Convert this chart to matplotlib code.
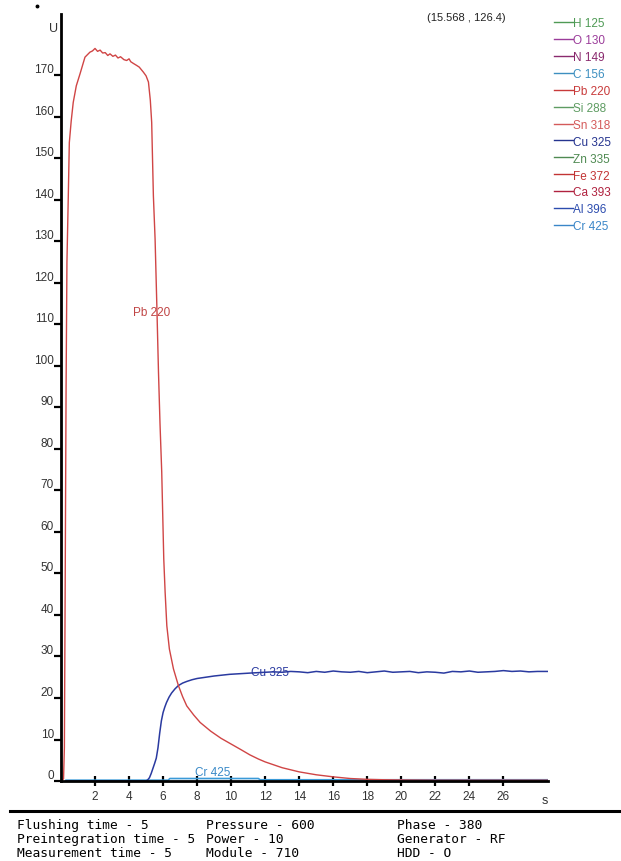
import matplotlib
matplotlib.use("Agg")
import matplotlib.pyplot as plt
from matplotlib.lines import Line2D
import numpy as np

# ---------------- data ----------------

pb_t = [0.0, 0.15, 0.2, 0.25, 0.3, 0.35, 0.43, 0.49, 0.6, 0.72, 0.9, 1.12, 1.41,
        1.7, 1.85, 2.0, 2.15, 2.3, 2.45, 2.6, 2.75, 2.88, 3.05, 3.2, 3.35, 3.5,
        3.7, 3.86, 4.0, 4.1, 4.25, 4.45, 4.6, 4.7, 4.84, 5.0, 5.14, 5.25, 5.33,
        5.43, 5.53, 5.63, 5.73, 5.82, 5.92, 6.04, 6.12, 6.22, 6.37, 6.61, 6.9,
        7.15, 7.39, 7.8, 8.18, 8.8, 9.4, 10, 10.6, 11.1, 11.6, 12, 13, 14, 15,
        16, 17, 18, 19, 20, 22, 24, 26, 28.6]
pb_u = [0.0, 0.5, 8, 50, 95, 125, 141, 153.8, 159, 163.5, 167.5, 170.4, 174.4,
        175.6, 175.9, 176.5, 175.8, 176.1, 175.4, 175.5, 174.8, 175.2, 174.6, 174.9,
        174.2, 174.5, 173.8, 173.6, 174.0, 173.3, 172.9, 172.4, 172.0, 171.5, 170.8,
        169.9, 168.4, 164, 158.7, 141, 130.6, 115, 98.5, 86, 74.5, 53.5, 45.5,
        37.4, 31.8, 27, 23, 20.3, 18.1, 15.9, 14.1, 12.0, 10.3, 8.9, 7.5, 6.3,
        5.3, 4.6, 3.2, 2.2, 1.5, 1.0, 0.6, 0.4, 0.3, 0.25, 0.2, 0.2, 0.2, 0.2]

cu_t = [0.3, 5.0, 5.1, 5.2, 5.3, 5.4, 5.5, 5.6, 5.7, 5.8, 5.9, 6.0, 6.1, 6.2,
        6.35, 6.5, 6.7, 6.9, 7.15, 7.4, 7.7, 8.0, 9.0, 9.9, 11.1, 12, 12.5, 13,
        13.5, 14, 14.5, 15, 15.5, 16, 16.5, 17, 17.5, 18, 18.5, 19, 19.5, 20,
        20.5, 21, 21.5, 22, 22.5, 23, 23.5, 24, 24.5, 25, 25.5, 26, 26.5, 27,
        27.5, 28, 28.6]
cu_u = [0.0, 0.0, 0.3, 0.8, 1.8, 3.0, 4.2, 5.5, 8.0, 11.5, 14.5, 16.5, 17.8,
        18.9, 20.2, 21.2, 22.2, 23.0, 23.6, 24.0, 24.4, 24.7, 25.3, 25.7, 26.0,
        26.2, 26.3, 26.2, 26.4, 26.3, 26.1, 26.4, 26.2, 26.5, 26.3, 26.2, 26.4,
        26.1, 26.3, 26.5, 26.2, 26.3, 26.4, 26.1, 26.3, 26.2, 26.0, 26.4, 26.3,
        26.5, 26.2, 26.3, 26.4, 26.6, 26.4, 26.5, 26.3, 26.4, 26.4]

cr_t = [0.3, 6.3, 6.4, 11.6, 11.7, 28.6]
cr_u = [0.2, 0.2, 0.6, 0.6, 0.3, 0.3]

elements = ["H 125", "O 130", "N 149", "C 156", "Pb 220", "Si 288", "Sn 318",
            "Cu 325", "Zn 335", "Fe 372", "Ca 393", "Al 396", "Cr 425"]
el_colors = ["#4f9a55", "#9b3c9a", "#8a2a6e", "#3d8fc0", "#c83a3a", "#5e9c62",
             "#d45a5a", "#25348f", "#4f8a52", "#c23434", "#b0223f", "#2c4cae",
             "#3a86c8"]

footer = [["Flushing time - 5", "Pressure - 600", "Phase - 380"],
          ["Preintegration time - 5", "Power - 10", "Generator - RF"],
          ["Measurement time - 5", "Module - 710", "HDD - O"]]

# ---------------- plot ----------------

plt.rcParams['font.family'] = ['Liberation Sans', 'DejaVu Sans']

fig = plt.figure(figsize=(6.21, 8.62), dpi=100)
ax = fig.add_axes([0.0982, 0.0928, 0.7837, 0.8898])

ax.plot(cr_t, cr_u, color="#3a9ad8", lw=1.2)
ax.plot(cu_t, cu_u, color="#2a3aa0", lw=1.1)
ax.plot(pb_t, pb_u, color="#d04545", lw=1.0)

ax.text(5.33, 113, "Pb 220", color="#c04545", fontsize=8.5, ha="center", va="center")
ax.text(12.3, 26.3, "Cu 325", color="#2a3aa0", fontsize=8.5, ha="center", va="center")
ax.text(8.9, 2.2, "Cr 425", color="#3a8ac8", fontsize=8.5, ha="center", va="center")

ax.set_xlim(0, 28.6)
ax.set_ylim(0, 184.8)
ax.set_xticks(np.arange(2, 27, 2))
ax.set_yticks(np.arange(0, 171, 10))
for s in ["top", "right"]:
    ax.spines[s].set_visible(False)
for s in ["left", "bottom"]:
    ax.spines[s].set_linewidth(2.0)
ax.tick_params(axis="x", direction="inout", length=7, width=1.6, labelsize=8.5,
               labelcolor="#333333", pad=3)
ax.tick_params(axis="y", direction="out", length=5, width=1.6, labelsize=8.5,
               labelcolor="#333333", pad=0)
for lab in ax.get_yticklabels():
    lab.set_verticalalignment("bottom")

ax.text(1.0, -0.0165, "s", transform=ax.transAxes, ha="right", va="top",
        fontsize=9, color="#333333")
ax.text(-0.005, 0.99, "U", transform=ax.transAxes, ha="right", va="top",
        fontsize=9, color="#333333")
# little stray dot in the corner of the original screenshot
fig.add_artist(Line2D([37 / 621], [1 - 7 / 862], marker="o", markersize=1.8,
                      color="black", lw=0))
fig.text(466 / 621, 1 - 18 / 862, "(15.568 , 126.4)", fontsize=8,
         color="#222222", ha="center", va="center")

handles = [Line2D([0], [0], color=c, lw=1.0) for c in el_colors]
leg = fig.legend(handles, elements, loc="upper left",
                 bbox_to_anchor=(548 / 621, 1 - 12 / 862), frameon=False,
                 fontsize=8.5, handlelength=1.6, handletextpad=0.0,
                 labelspacing=0.42, borderpad=0, labelcolor="linecolor")

# footer
fig.add_artist(Line2D([10 / 621, 1.0], [1 - 812 / 862, 1 - 812 / 862],
                      color="black", lw=2.2))
col_x = [17 / 621, 206 / 621, 397 / 621]
row_y = [826, 840, 854]
for r, row in enumerate(footer):
    for c, txt in enumerate(row):
        fig.text(col_x[c], 1 - row_y[r] / 862, txt, family="DejaVu Sans Mono",
                 fontsize=9.3, va="center", ha="left", color="black")

fig.savefig("out.png", dpi=100)
